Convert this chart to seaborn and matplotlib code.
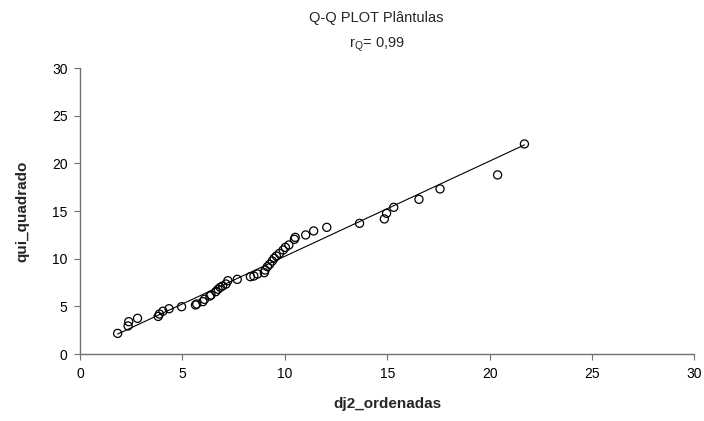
import matplotlib
matplotlib.use("Agg")
import matplotlib.pyplot as plt
import seaborn as sns
import pandas as pd

dj2_ordenadas = [1.84, 2.35, 2.38, 2.81, 3.82, 3.88, 4.05, 4.35, 4.96, 5.64, 5.70,
                 6.00, 6.08, 6.34, 6.40, 6.63, 6.74, 6.85, 6.96, 7.13, 7.22, 7.68,
                 8.32, 8.49, 8.67, 9.00, 9.04, 9.15, 9.26, 9.39, 9.48, 9.59, 9.74,
                 9.92, 10.03, 10.20, 10.47, 10.51, 11.02, 11.41, 12.05, 13.65, 14.86,
                 14.97, 15.32, 16.55, 17.58, 20.39, 21.70]
qui_quadrado = [2.17, 2.95, 3.40, 3.75, 3.95, 4.20, 4.50, 4.76, 4.97, 5.15, 5.25,
                5.50, 5.74, 6.09, 6.20, 6.55, 6.80, 7.00, 7.14, 7.35, 7.70, 7.84,
                8.12, 8.19, 8.40, 8.54, 8.82, 9.17, 9.42, 9.77, 10.05, 10.29, 10.57,
                10.92, 11.20, 11.45, 12.04, 12.25, 12.50, 12.92, 13.30, 13.72, 14.18,
                14.77, 15.40, 16.24, 17.33, 18.80, 22.05]
line_x = [1.84, 21.70]
line_y = [2.10, 21.95]

title = "Q-Q PLOT Plântulas"
subtitle = "r$_{\\mathregular{Q}}$= 0,99"
xlabel = "dj2_ordenadas"
ylabel = "qui_quadrado"
ticks = [0, 5, 10, 15, 20, 25, 30]

sns.set_theme(style="white")
plt.rcParams['font.family'] = ['Liberation Sans', 'DejaVu Sans']

df = pd.DataFrame({"x": dj2_ordenadas, "y": qui_quadrado})

fig = plt.figure(figsize=(7.04, 4.21), dpi=100)
ax = fig.add_axes([0.1136, 0.159, 0.8728, 0.679])

sns.lineplot(x=line_x, y=line_y, ax=ax, color="black", linewidth=0.8)
sns.scatterplot(data=df, x="x", y="y", ax=ax, marker="o", s=34,
                facecolor="none", edgecolor="black", linewidth=0.9, zorder=3)

ax.set_xlim(0, 30)
ax.set_ylim(0, 30)
ax.set_xticks(ticks)
ax.set_yticks(ticks)
ax.tick_params(axis="both", which="major", direction="out", length=4, width=0.8,
               color="#707070", labelsize=10, labelcolor="black", pad=5,
               left=True, bottom=True)
for s in ["top", "right"]:
    ax.spines[s].set_visible(False)
for s in ["left", "bottom"]:
    ax.spines[s].set_color("#707070")
    ax.spines[s].set_linewidth(1.0)

ax.set_xlabel(xlabel, fontsize=11, fontweight="bold", labelpad=12)
ax.set_ylabel(ylabel, fontsize=11, fontweight="bold", labelpad=16)

fig.text(0.535, 0.957, title, ha="center", va="center", fontsize=10.5)
fig.text(0.535, 0.893, subtitle, ha="center", va="center", fontsize=10.5)

fig.savefig("out.png", dpi=100)
